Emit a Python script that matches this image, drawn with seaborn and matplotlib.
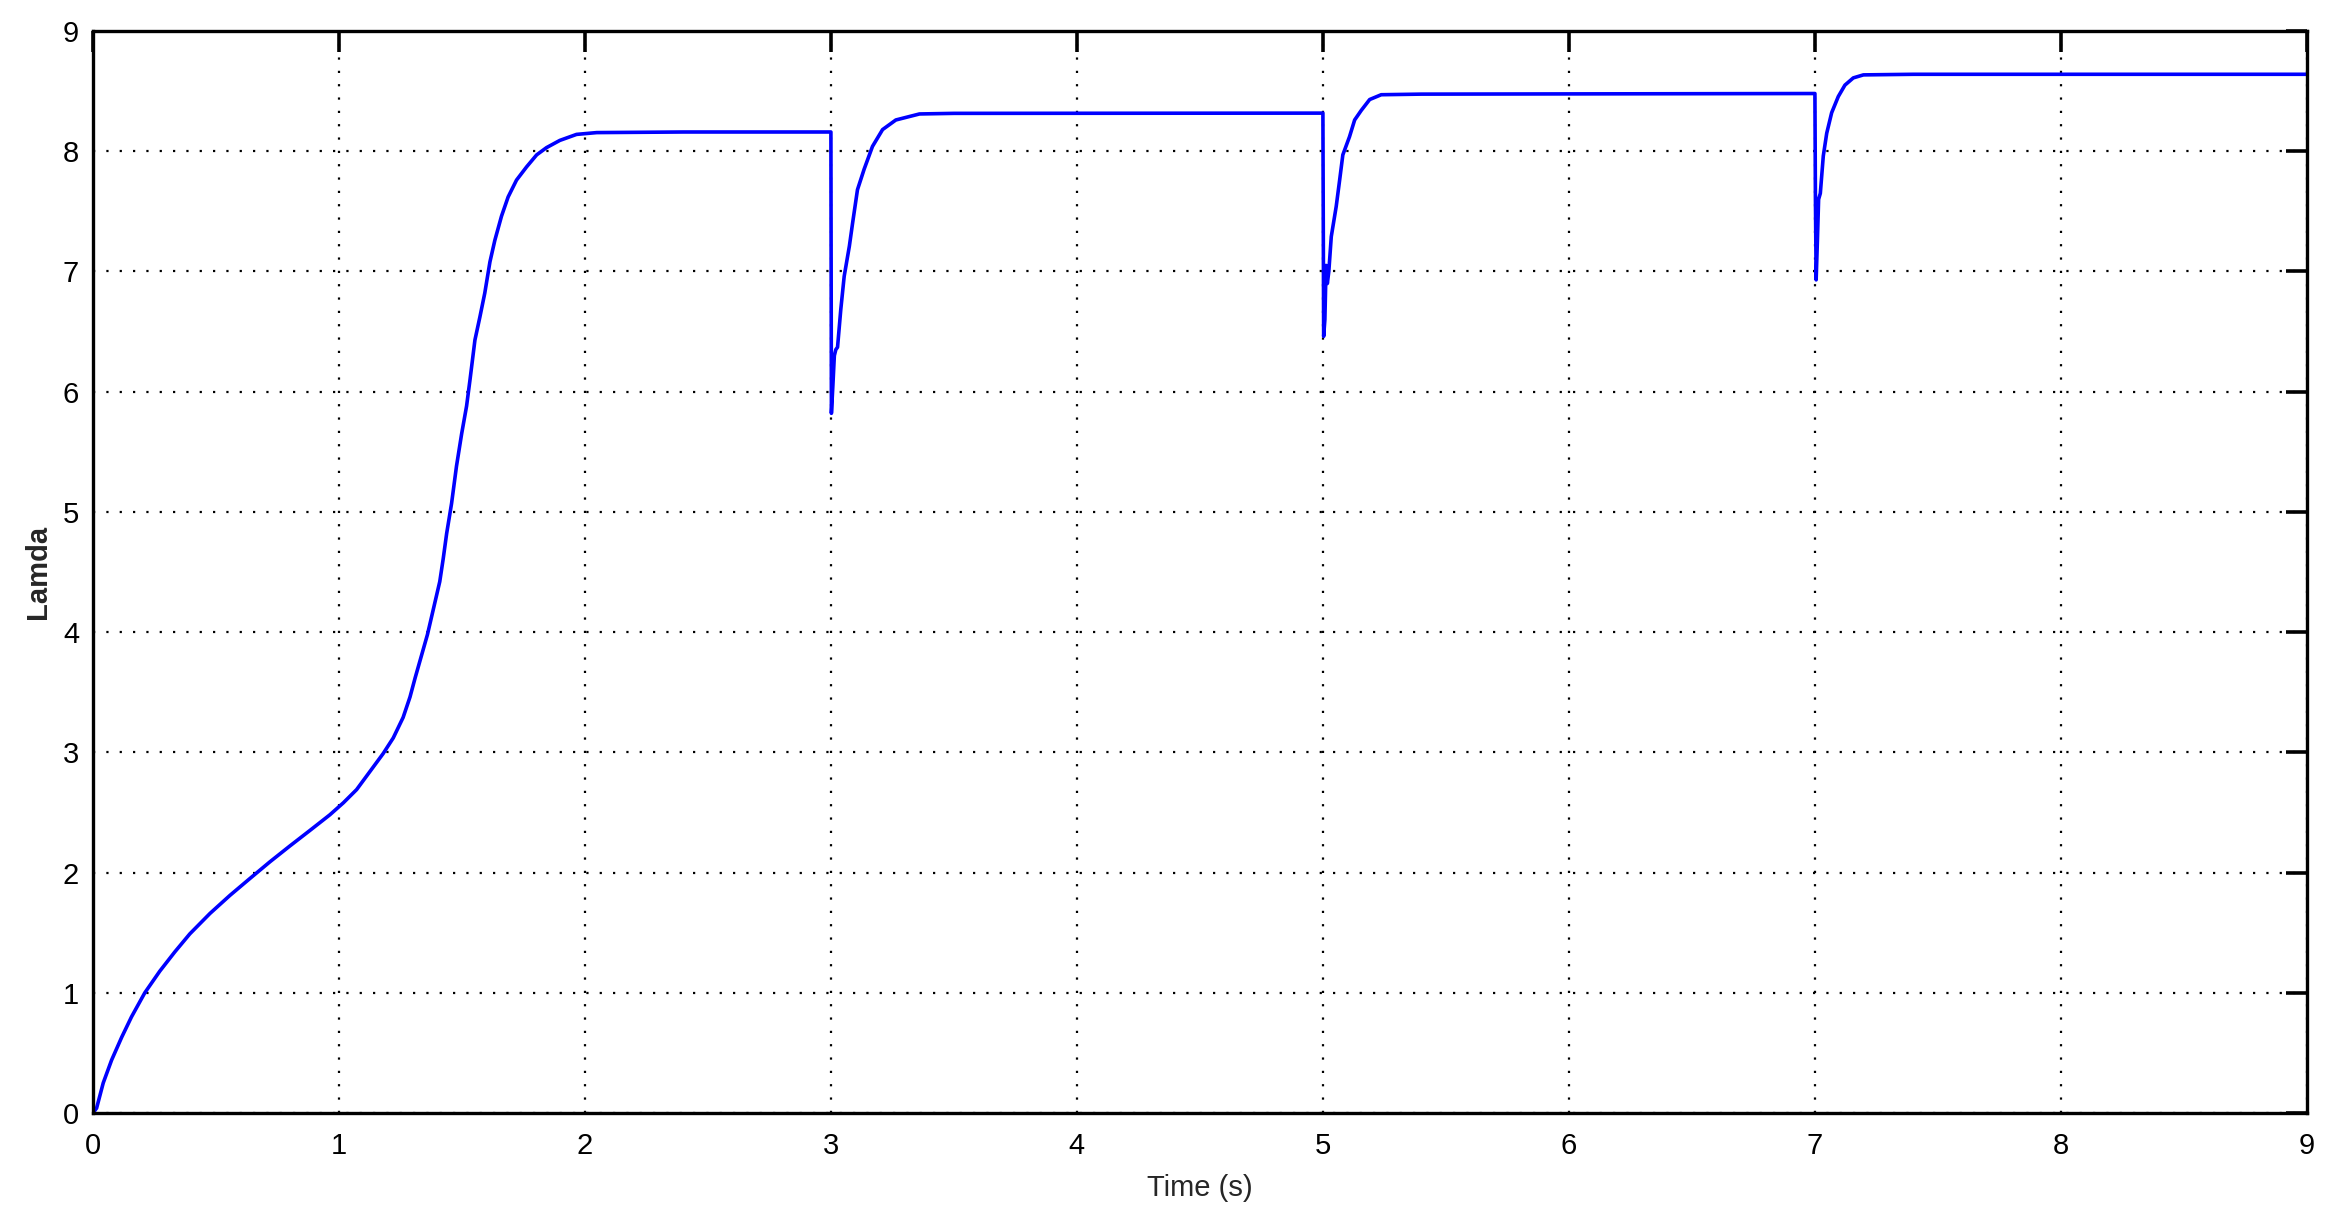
import matplotlib
matplotlib.use("Agg")
import matplotlib.pyplot as plt
import seaborn as sns
import pandas as pd

# Time (s) and Lamda values
time_s = [0.0, 0.015, 0.042, 0.076, 0.117, 0.157, 0.211, 0.272, 0.333, 0.394, 0.476,
          0.557, 0.638, 0.72, 0.80, 0.882, 0.963, 1.018, 1.072, 1.126, 1.18, 1.221,
          1.261, 1.289, 1.31, 1.36, 1.41, 1.424, 1.438, 1.458, 1.478, 1.499, 1.519,
          1.533, 1.553, 1.573, 1.593, 1.614, 1.634, 1.661, 1.688, 1.722, 1.763, 1.804,
          1.844, 1.898, 1.966, 2.048, 2.4, 3.0,
          3.002, 3.008, 3.014, 3.02, 3.027, 3.04, 3.054, 3.075, 3.088, 3.108, 3.135,
          3.169, 3.21, 3.264, 3.36, 3.5, 5.0,
          5.003, 5.008, 5.013, 5.018, 5.024, 5.034, 5.054, 5.068, 5.081, 5.108, 5.129,
          5.156, 5.19, 5.237, 5.4, 7.0,
          7.002, 7.005, 7.01, 7.015, 7.022, 7.034, 7.048, 7.068, 7.095, 7.122, 7.156,
          7.197, 7.4, 9.0]
lamda = [0.0, 0.04, 0.25, 0.44, 0.63, 0.80, 1.0, 1.18, 1.34, 1.49, 1.66,
         1.81, 1.95, 2.09, 2.22, 2.35, 2.48, 2.58, 2.69, 2.84, 2.99, 3.12,
         3.29, 3.46, 3.62, 3.98, 4.42, 4.61, 4.82, 5.07, 5.38, 5.65, 5.88,
         6.10, 6.43, 6.62, 6.82, 7.08, 7.26, 7.46, 7.62, 7.76, 7.87, 7.97,
         8.03, 8.09, 8.14, 8.155, 8.16, 8.16,
         5.82, 6.05, 6.3, 6.35, 6.37, 6.68, 6.96, 7.21, 7.40, 7.68, 7.85,
         8.04, 8.18, 8.26, 8.31, 8.315, 8.317,
         6.46, 6.6, 7.05, 6.9, 7.0, 7.29, 7.54, 7.76, 7.97, 8.12, 8.26,
         8.34, 8.43, 8.47, 8.475, 8.48,
         7.62, 6.93, 7.25, 7.6, 7.65, 7.96, 8.15, 8.32, 8.455, 8.55, 8.61,
         8.635, 8.64, 8.64]

x_ticks = list(range(0, 10))
y_ticks = list(range(0, 10))

df = pd.DataFrame({"Time (s)": time_s, "Lamda": lamda})

sns.set_style("white")
plt.rcParams['font.family'] = ['Liberation Sans', 'DejaVu Sans']

fig = plt.figure(figsize=(23.34, 12.16), dpi=100)
ax = fig.add_axes([0.0398, 0.0847, 0.9486, 0.8898])

sns.lineplot(data=df, x="Time (s)", y="Lamda", ax=ax, color=(0, 0, 1),
             linewidth=2.6, estimator=None, sort=False)

ax.set_xlim(0, 9)
ax.set_ylim(0, 9)
ax.set_xticks(x_ticks)
ax.set_yticks(y_ticks)
ax.set_xticklabels([str(v) for v in x_ticks])
ax.set_yticklabels([str(v) for v in y_ticks])

ax.grid(True, color='black', linestyle=(0, (1, 5)), linewidth=1.6)
for s in ax.spines.values():
    s.set_visible(True)
    s.set_color('black')
    s.set_linewidth(2.4)

ax.tick_params(direction='in', top=True, right=True, length=15, width=2.6,
               labelsize=21, colors='black', pad=10)
ax.tick_params(axis='x', pad=14)

ax.set_xlabel("Time (s)", fontsize=21, labelpad=10)
ax.set_ylabel("Lamda", fontsize=21, fontweight='bold', labelpad=8)

fig.savefig("out.png", dpi=100, facecolor='white')
